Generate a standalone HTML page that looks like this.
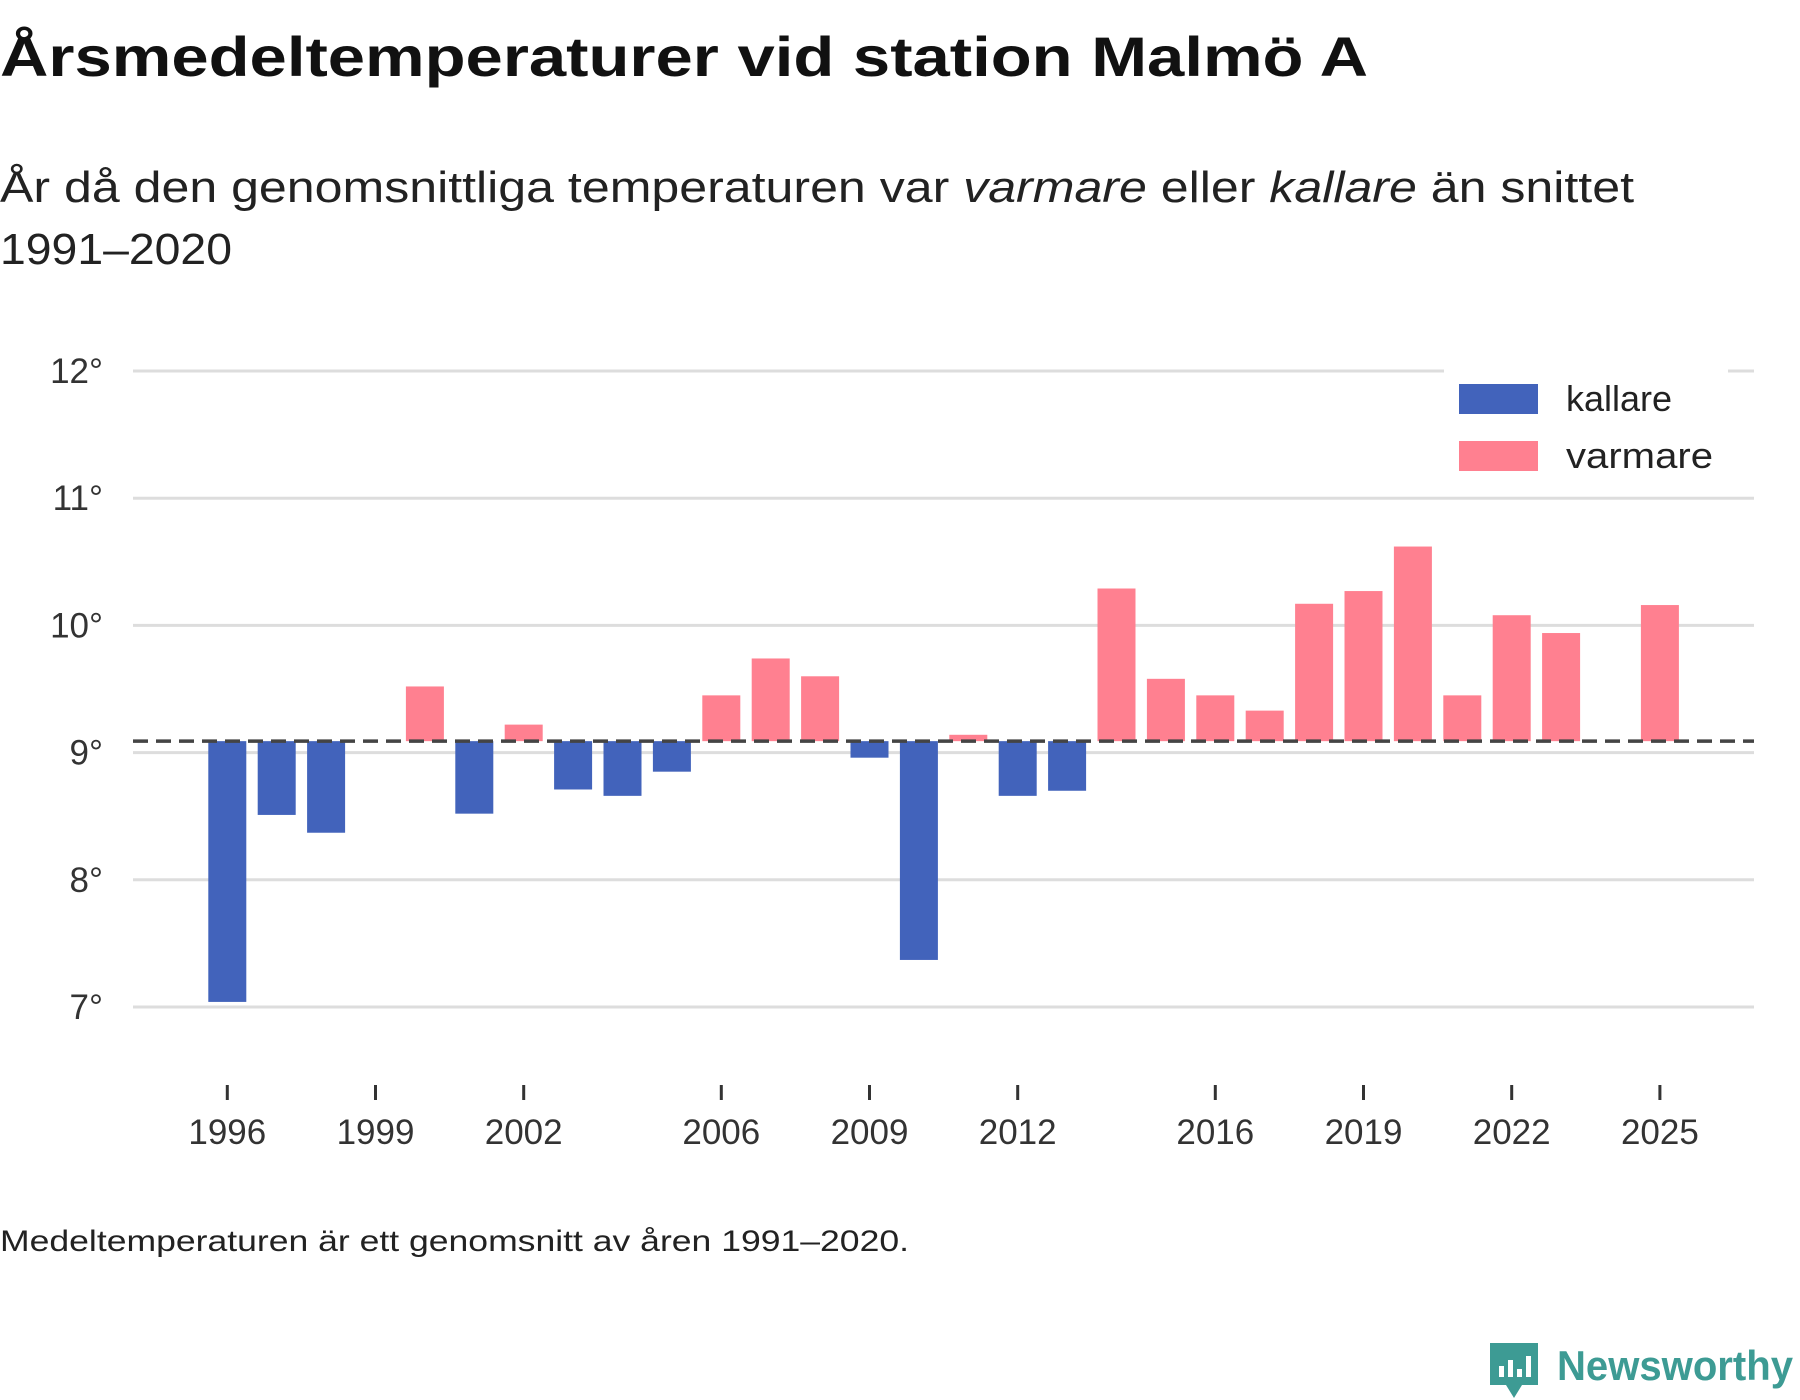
<!DOCTYPE html>
<html><head><meta charset="utf-8"><style>
html,body{margin:0;padding:0;background:#fff;}
svg{display:block;font-family:"Liberation Sans","DejaVu Sans",sans-serif;}
</style></head><body>
<svg id="chart" width="1800" height="1400" viewBox="0 0 1800 1400">
<text x="0" y="76" font-size="56" font-weight="bold" fill="#111" textLength="1368" lengthAdjust="spacingAndGlyphs">Årsmedeltemperaturer vid station Malmö A</text>
<text x="0" y="202" font-size="44" fill="#222" textLength="1634" lengthAdjust="spacingAndGlyphs">År då den genomsnittliga temperaturen var <tspan font-style="italic">varmare</tspan> eller <tspan font-style="italic">kallare</tspan> än snittet</text>
<text x="0" y="264" font-size="44" fill="#222" textLength="232" lengthAdjust="spacingAndGlyphs">1991–2020</text>
<g id="grid"></g>
<g id="yticks"></g>
<g id="bars"></g>
<line id="refline" stroke="#444" stroke-width="3.5" stroke-dasharray="15,8"></line>
<g id="xticks"></g>
<g>
<rect x="1444" y="369" width="284" height="113" fill="#fff"></rect>
<rect x="1459" y="384" width="79" height="30" fill="#4263bb"></rect>
<text x="1566" y="411" font-size="36" fill="#222">kallare</text>
<rect x="1459" y="441" width="79" height="30" fill="#ff8090"></rect>
<text x="1566" y="468" font-size="36" fill="#222" textLength="147" lengthAdjust="spacingAndGlyphs">varmare</text>
</g>
<text x="0" y="1251" font-size="30" fill="#222" textLength="909" lengthAdjust="spacingAndGlyphs">Medeltemperaturen är ett genomsnitt av åren 1991–2020.</text>
<g>
<path d="M1490 1343 h48 v42 h-16 l-8 13 l-8 -13 h-16 z" fill="#3d9b94"></path>
<rect x="1499" y="1366" width="5" height="11" fill="#fff"></rect>
<rect x="1508" y="1360" width="5" height="17" fill="#fff"></rect>
<rect x="1517" y="1369" width="5" height="8" fill="#fff"></rect>
<rect x="1526" y="1356" width="5" height="21" fill="#fff"></rect>
<text x="1557" y="1380" font-size="42" font-weight="bold" fill="#3d9b94" textLength="236" lengthAdjust="spacingAndGlyphs">Newsworthy</text>
</g>
</svg>
<script>
const years = [1996,1997,1998,1999,2000,2001,2002,2003,2004,2005,2006,2007,2008,2009,2010,2011,2012,2013,2014,2015,2016,2017,2018,2019,2020,2021,2022,2023,2024,2025];
const temps = [7.04,8.51,8.37,null,9.52,8.52,9.22,8.71,8.66,8.85,9.45,9.74,9.60,8.96,7.37,9.14,8.66,8.70,10.29,9.58,9.45,9.33,10.17,10.27,10.62,9.45,10.08,9.94,null,10.16];
const baseline = [9.09];
const yTicks = [7,8,9,10,11,12];
const xTickYears = [1996,1999,2002,2006,2009,2012,2016,2019,2022,2025];

const NS = "http://www.w3.org/2000/svg";
const X0 = 133, X1 = 1754;
function y(v){ return 371 + (12 - v) * 127.2; }
function x(yr){ return 227.3 + (yr - 1996) * 49.4; }
const BW = 38;
function mk(tag, attrs, parent){ const e=document.createElementNS(NS,tag); for(const k in attrs) e.setAttribute(k, attrs[k]); parent.appendChild(e); return e; }

const grid = document.getElementById('grid'), yt = document.getElementById('yticks');
yTicks.forEach(t => {
  const l = mk('line',{x1:X0,x2:X1,y1:y(t),y2:y(t),stroke:'#ddd','stroke-width':3},grid);
  
  
  const tx = mk('text',{x:103,y:y(t)+12,'font-size':35,fill:'#333','text-anchor':'end'},yt);
  tx.textContent = t + '°';
  
  
});

const bars = document.getElementById('bars');
years.forEach((yr,i) => {
  const v = temps[i];
  if (v === null) return;
  const b = baseline[0];
  const top = Math.min(y(v), y(b)), h = Math.abs(y(v) - y(b));
  const r = mk('rect',{x:x(yr)-BW/2,y:top,width:BW,height:h,fill: v < b ? '#4263bb' : '#ff8090'},bars);
  
  
});

const ref = document.getElementById('refline');
ref.setAttribute('x1', X0); ref.setAttribute('x2', X1);
ref.setAttribute('y1', y(baseline[0])); ref.setAttribute('y2', y(baseline[0]));

const xt = document.getElementById('xticks');
xTickYears.forEach(yr => {
  const l = mk('line',{x1:x(yr),x2:x(yr),y1:1085,y2:1100,stroke:'#333','stroke-width':3},xt);
  
  
  const t = mk('text',{x:x(yr),y:1144,'font-size':35,fill:'#333','text-anchor':'middle'},xt);
  t.textContent = yr;
  
  
});
</script>
</body></html>
